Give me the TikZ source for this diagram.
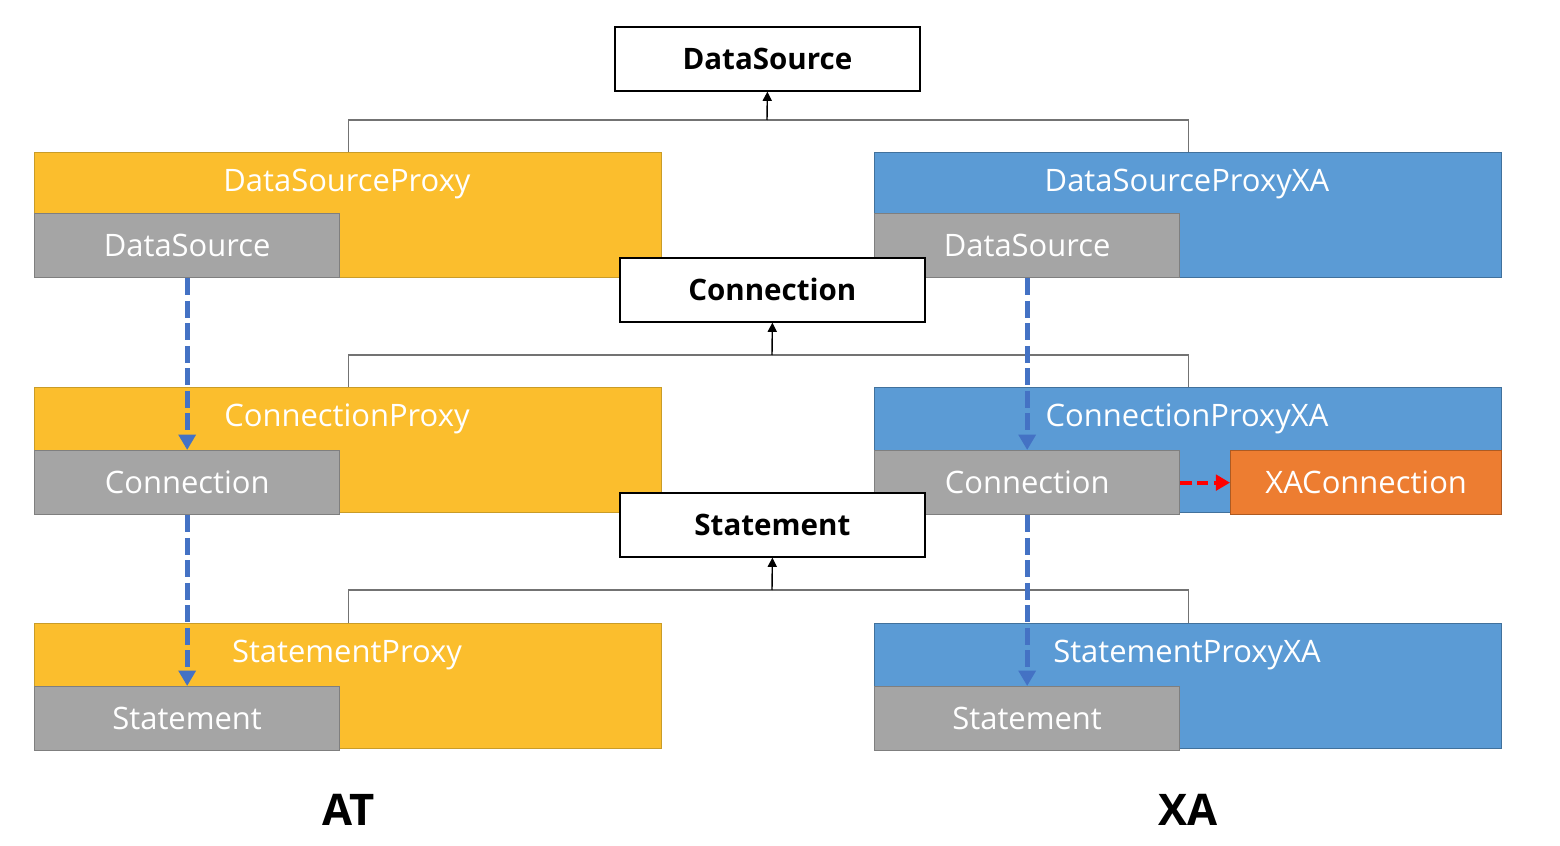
\documentclass[tikz,border=0pt]{standalone}
\usepackage{fontspec}
\setmainfont{Open Sans}
\usetikzlibrary{arrows.meta}
\definecolor{atgold}{RGB}{251, 190, 45}
\definecolor{atedge}{RGB}{201, 156, 40}
\definecolor{xablue}{RGB}{91, 155, 213}
\definecolor{xaedge}{RGB}{65, 113, 156}
\definecolor{wrapgray}{RGB}{165, 165, 165}
\definecolor{wrapedge}{RGB}{127, 127, 127}
\definecolor{xaorange}{RGB}{237, 125, 49}
\definecolor{xaorangeedge}{RGB}{174, 90, 33}
\definecolor{flowblue}{RGB}{68, 114, 196}

\begin{document}
\begin{tikzpicture}[
    x=0.025cm, y=-0.025cm,
    proxy/.style={minimum width=15.675cm, minimum height=3.125cm, anchor=north west, inner sep=0pt, line width=0.9pt},
    atbox/.style={proxy, fill=atgold, draw=atedge},
    xabox/.style={proxy, fill=xablue, draw=xaedge},
    wrapped/.style={fill=wrapgray, draw=wrapedge, line width=0.9pt, minimum width=7.625cm, minimum height=1.6cm,
        anchor=north west, inner sep=0pt, text=white, font=\fontsize{22}{26}\selectfont},
    title/.style={text=white, inner sep=0pt, font=\fontsize{22}{26}\selectfont},
    iface/.style={fill=white, draw=black, line width=1.2pt, minimum width=7.625cm, minimum height=1.6cm,
        anchor=north west, inner sep=0pt, font=\bfseries\fontsize{21}{25}\selectfont},
    bus/.style={draw=black!55, line width=0.9pt},
    up/.style={-{Triangle[width=6.5pt,length=6.5pt]}, line width=1pt},
    flow/.style={draw=flowblue, line width=3.8pt, dash pattern=on 12pt off 4pt, -{Triangle[width=12pt,length=11pt]}},
    xflow/.style={draw=red, line width=3pt, dash pattern=on 8pt off 4pt, -{Triangle[width=11pt,length=10pt]}},
    side/.style={font=\bfseries\fontsize{31}{36}\selectfont}
]
    \useasboundingbox (0,0) rectangle (1560,846);

    % Row 1: data sources
    \node[atbox] (dsp) at (34,152) {};
    \node[wrapped] (dsp-ds) at (34,213) {DataSource};
    \node[title] (dsp-t) at (347,184) {DataSourceProxy};
    \node[xabox] (dsx) at (874,152) {};
    \node[wrapped] (dsx-ds) at (874,213) {DataSource};
    \node[title] (dsx-t) at (1187,184) {DataSourceProxyXA};

    % Row 2: connections
    \node[atbox] (cp) at (34,387) {};
    \node[wrapped] (cp-c) at (34,450) {Connection};
    \node[title] (cp-t) at (347,419) {ConnectionProxy};
    \node[xabox] (cx) at (874,387) {};
    \node[wrapped] (cx-c) at (874,450) {Connection};
    \node[wrapped, fill=xaorange, draw=xaorangeedge, minimum width=6.775cm] (cx-xac) at (1230,450) {XAConnection};
    \node[title] (cx-t) at (1187,419) {ConnectionProxyXA};

    % Row 3: statements
    \node[atbox] (sp) at (34,623) {};
    \node[wrapped] (sp-s) at (34,686) {Statement};
    \node[title] (sp-t) at (347,655) {StatementProxy};
    \node[xabox] (sx) at (874,623) {};
    \node[wrapped] (sx-s) at (874,686) {Statement};
    \node[title] (sx-t) at (1187,655) {StatementProxyXA};

    % Interfaces
    \node[iface] (ds) at (614,26) {DataSource};
    \node[iface] (conn) at (619,257) {Connection};
    \node[iface] (stmt) at (619,492) {Statement};

    % Inheritance
    \coordinate (j1) at (767,120);
    \coordinate (j2) at (772,355);
    \coordinate (j3) at (772,590);
    \draw[bus] (dsp.north) |- (j1) -| (dsx.north);
    \draw[bus] (cp.north) |- (j2) -| (cx.north);
    \draw[bus] (sp.north) |- (j3) -| (sx.north);
    \draw[up] (j1) -- (ds.south);
    \draw[up] (j2) -- (conn.south);
    \draw[up] (j3) -- (stmt.south);

    % Wrapping chain
    \draw[flow] (dsp-ds.south) -- (cp-c.north);
    \draw[flow] (cp-c.south) -- (sp-s.north);
    \draw[flow] (dsx-ds.south) -- (cx-c.north);
    \draw[flow] (cx-c.south) -- (sx-s.north);
    \draw[xflow] (cx-c.east) -- (cx-xac.west);

    \node[side] (at) at (349,810) {AT};
    \node[side] (xa) at (1188,810) {XA};

\end{tikzpicture}
\end{document}
